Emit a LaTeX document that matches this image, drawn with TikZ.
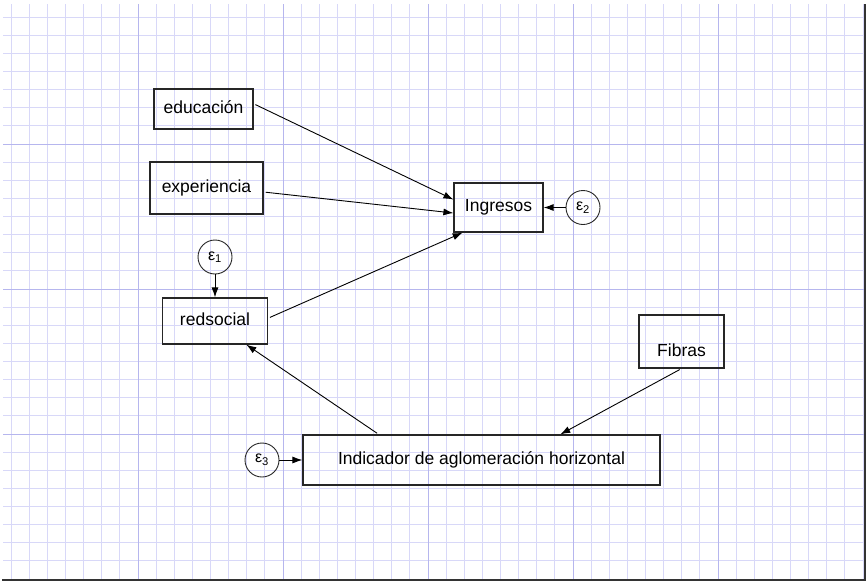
\documentclass[tikz,border=0pt]{standalone}
\usepackage{fontspec}
\setmainfont{Liberation Sans}
\usepackage{tikz}
\usetikzlibrary{arrows.meta, positioning}

\definecolor{gridminor}{RGB}{216,216,248}
\definecolor{gridmajor}{RGB}{182,182,238}

\begin{document}
\begin{tikzpicture}[x=1pt,y=-1pt,
    var/.style={draw=black!85,line width=1.2pt,text height=12pt,text depth=3.5pt,
      font=\fontsize{17.5}{20}\selectfont},
    err/.style={draw=black!85,line width=0.9pt,circle,minimum size=34pt,inner sep=0pt,
      font=\fontsize{16}{18}\selectfont},
    effect/.style={line width=0.9pt,-{Latex[length=10pt,width=7pt]},shorten <=2pt}]
        \useasboundingbox (0,0) rectangle (867,581);
        % grid paper
        \begin{scope}
            \clip (3,4) rectangle (864,579);
            \foreach \i in {0,...,47}
                \draw[gridminor,line width=1pt] ({11.125+18.125*\i},4) -- ++(0,575);
            \foreach \j in {0,...,31}
                \draw[gridminor,line width=1pt] (3,{17.125+18.125*\j}) -- ++(861,0);
            \foreach \i in {7,15,...,39}
                \draw[gridmajor,line width=1pt] ({11.125+18.125*\i},4) -- ++(0,575);
            \foreach \j in {7,15,23,31}
                \draw[gridmajor,line width=1pt] (3,{17.125+18.125*\j}) -- ++(861,0);
        \end{scope}
        \draw[black!80,line width=2pt] (2,579.5) -- (864.5,579.5) -- (864.5,4);
        % observed variables
        \node[var,minimum width=99pt,minimum height=40pt] (educacion) at (203.5,109) {educación};
        \node[var,minimum width=113pt,minimum height=52pt] (experiencia) at (206.5,188) {experiencia};
        \node[var,minimum width=89pt,minimum height=49pt] (ingresos) at (498.5,207.5) {Ingresos};
        \node[var,minimum width=105pt,minimum height=46pt] (redsocial) at (215,321) {redsocial};
        \node[var,minimum width=357pt,minimum height=50pt] (indicador) at (481.5,460) {Indicador de aglomeración horizontal};
        \node[var,minimum width=85pt,minimum height=53pt,text height=33pt] (fibras) at (681.5,341.5) {Fibras};
        % errors
        \node[err] (e1) at (215,257) {ε\textsubscript{1}};
        \node[err] (e2) at (583,207.5) {ε\textsubscript{2}};
        \node[err] (e3) at (262,460) {ε\textsubscript{3}};
        % paths
        \draw[effect] (educacion.6) -- (ingresos.170);
        \draw[effect] (experiencia.-4) -- (ingresos.187);
        \draw[effect] (redsocial.3) -- (ingresos.215);
        \draw[effect] (indicador.166) -- (redsocial.-37);
        \draw[effect] (fibras.south) -- (indicador.18);
        \draw[effect,shorten <=0pt] (e1.south) -- (redsocial.north);
        \draw[effect,shorten <=0pt] (e2.west) -- (ingresos.east);
        \draw[effect,shorten <=0pt] (e3.east) -- (indicador.west);
    \end{tikzpicture}
\end{document}
